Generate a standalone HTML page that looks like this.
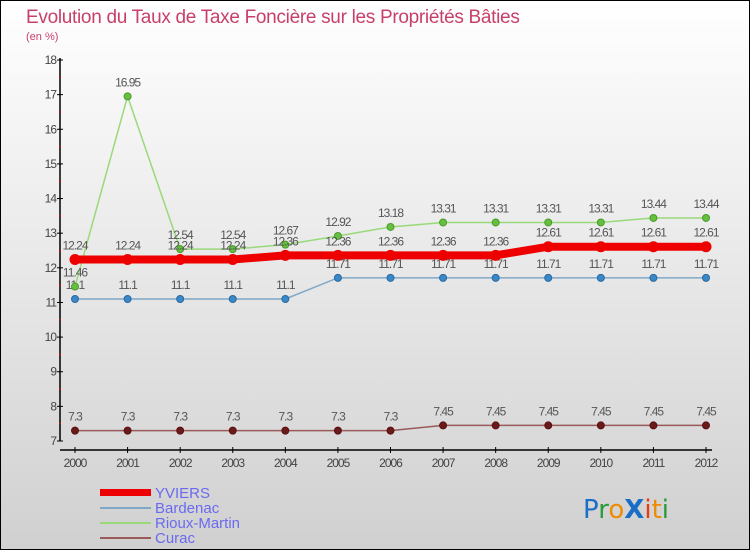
<!DOCTYPE html>
<html><head><meta charset="utf-8"><style>
body{margin:0;width:750px;height:550px;overflow:hidden;font-family:"Liberation Sans",sans-serif}
svg{display:block}
</style></head><body>
<svg id="c" width="750" height="550" xmlns="http://www.w3.org/2000/svg">
<defs><linearGradient id="bg" x1="0" y1="0" x2="0" y2="1"><stop offset="0" stop-color="#ffffff"/><stop offset="1" stop-color="#d0d0d0"/></linearGradient></defs>
<rect x="0.5" y="0.5" width="749" height="549" fill="url(#bg)" stroke="#000"/>
<text x="26" y="23" font-size="19" fill="#c8406a" letter-spacing="-0.3">Evolution du Taux de Taxe Foncière sur les Propriétés Bâties</text>
<text x="26" y="40" font-size="11" fill="#c8406a">(en %)</text>
<g id="axes"></g><g id="series"></g>
<g>
<rect x="100" y="489" width="51" height="7" fill="#ee0000"/>
<text x="155" y="498" font-size="15" fill="#6a6af0">YVIERS</text>
<line x1="100" y1="508" x2="151" y2="508" stroke="#7fa8c8" stroke-width="2"/>
<text x="155" y="513" font-size="15" fill="#6a6af0">Bardenac</text>
<line x1="100" y1="523" x2="151" y2="523" stroke="#99d97a" stroke-width="2"/>
<text x="155" y="528" font-size="15" fill="#6a6af0">Rioux-Martin</text>
<line x1="100" y1="538" x2="151" y2="538" stroke="#9a5a5a" stroke-width="2"/>
<text x="155" y="543" font-size="15" fill="#6a6af0">Curac</text>
</g>
<g font-size="26" font-family="'DejaVu Sans',sans-serif">
<text x="583" y="518"><tspan fill="#1a6ec8">P</tspan><tspan fill="#2a9a3a">r</tspan><tspan fill="#f08a00">o</tspan><tspan fill="#1a6ec8" font-weight="bold">X</tspan><tspan fill="#e83a10">i</tspan><tspan fill="#f08a00">t</tspan><tspan fill="#2a9a3a">i</tspan></text>
</g>
</svg>
<script>
const years=[2000,2001,2002,2003,2004,2005,2006,2007,2008,2009,2010,2011,2012];
const yTicks=[7,8,9,10,11,12,13,14,15,16,17,18];
const yviers=[12.24,12.24,12.24,12.24,12.36,12.36,12.36,12.36,12.36,12.61,12.61,12.61,12.61];
const bardenac=[11.1,11.1,11.1,11.1,11.1,11.71,11.71,11.71,11.71,11.71,11.71,11.71,11.71];
const rioux=[11.46,16.95,12.54,12.54,12.67,12.92,13.18,13.31,13.31,13.31,13.31,13.44,13.44];
const curac=[7.3,7.3,7.3,7.3,7.3,7.3,7.3,7.45,7.45,7.45,7.45,7.45,7.45];
const NS="http://www.w3.org/2000/svg";
const X=i=>75+i*(706-75)/(years.length-1);
const Y=v=>441-(v-7)*(441-60)/11;
function mk(t,a,p){const e=document.createElementNS(NS,t);for(const k in a)e.setAttribute(k,a[k]);p.appendChild(e);return e;}
const ax=document.getElementById('axes');
let l=mk('line',{x1:60,y1:58,x2:60,y2:441,stroke:'#000','stroke-width':1.5},ax);


l=mk('line',{x1:60,y1:450,x2:712,y2:450,stroke:'#000','stroke-width':1.5},ax);


yTicks.forEach((v,i)=>{
 mk('line',{x1:57,x2:63,y1:Y(v),y2:Y(v),stroke:'#000'},ax);
 const t=mk('text',{x:56,y:Y(v)+4,'font-size':12,'text-anchor':'end',fill:'#444','letter-spacing':'-1'},ax);
 t.textContent=v;
 
 
 if(i<yTicks.length-1)mk('line',{x1:59,x2:61,y1:Y(v+0.5),y2:Y(v+0.5),stroke:'#e00'},ax);
});
years.forEach((y,i)=>{
 mk('line',{x1:X(i),x2:X(i),y1:447,y2:453,stroke:'#000'},ax);
 const t=mk('text',{x:X(i),y:467,'font-size':12,'text-anchor':'middle',fill:'#444','letter-spacing':'-1'},ax);
 t.textContent=y;
 
 
});
const sg=document.getElementById('series');
function draw(vals,name,col,w,dot,dotStroke,r){
 const g=mk('g',{},sg);
 
 
 const p=mk('polyline',{points:vals.map((v,i)=>X(i)+','+Y(v)).join(' '),fill:'none',stroke:col,'stroke-width':w},g);
 
 
 vals.forEach((v,i)=>{
  const c=mk('circle',{cx:X(i),cy:Y(v),r:r,fill:dot,stroke:dotStroke},g);
  
  
  const t=mk('text',{x:X(i),y:Y(v)-10,'font-size':12,'text-anchor':'middle',fill:'#555','letter-spacing':'-1'},g);
  t.textContent=v;
  
  
 });
}
draw(curac,'curac','#9a5a5a',1.5,'#6a1a1a','#5a1010',3.5);
draw(bardenac,'bardenac','#7fa8c8',1.5,'#3a88c8','#2a6aa0',3.5);
draw(rioux,'rioux-martin','#99d97a',1.5,'#66c040','#4a9a2a',3.5);
draw(yviers,'yviers','#ee0000',8,'#ee0000','#ee0000',5);
</script>
</body></html>
